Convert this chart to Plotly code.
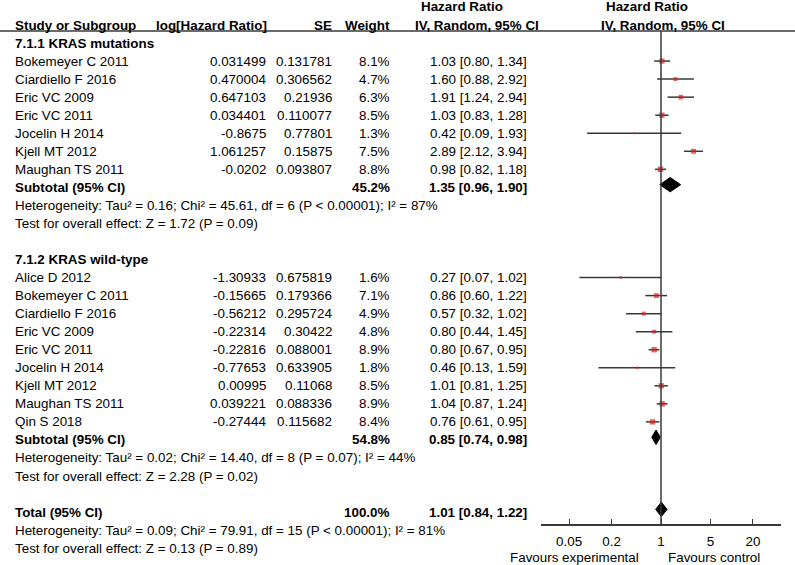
import plotly.graph_objects as go

# ---------------- data ----------------
mut_studies = ["Bokemeyer C 2011", "Ciardiello F 2016", "Eric VC 2009", "Eric VC 2011",
               "Jocelin H 2014", "Kjell MT 2012", "Maughan TS 2011"]
mut_loghr = ["0.031499", "0.470004", "0.647103", "0.034401", "-0.8675", "1.061257", "-0.0202"]
mut_se = ["0.131781", "0.306562", "0.21936", "0.110077", "0.77801", "0.15875", "0.093807"]
mut_weight = [8.1, 4.7, 6.3, 8.5, 1.3, 7.5, 8.8]
mut_hr = [1.03, 1.60, 1.91, 1.03, 0.42, 2.89, 0.98]
mut_lo = [0.80, 0.88, 1.24, 0.83, 0.09, 2.12, 0.82]
mut_hi = [1.34, 2.92, 2.94, 1.28, 1.93, 3.94, 1.18]

wt_studies = ["Alice D 2012", "Bokemeyer C 2011", "Ciardiello F 2016", "Eric VC 2009",
              "Eric VC 2011", "Jocelin H 2014", "Kjell MT 2012", "Maughan TS 2011", "Qin S 2018"]
wt_loghr = ["-1.30933", "-0.15665", "-0.56212", "-0.22314", "-0.22816", "-0.77653",
            "0.00995", "0.039221", "-0.27444"]
wt_se = ["0.675819", "0.179366", "0.295724", "0.30422", "0.088001", "0.633905",
         "0.11068", "0.088336", "0.115682"]
wt_weight = [1.6, 7.1, 4.9, 4.8, 8.9, 1.8, 8.5, 8.9, 8.4]
wt_hr = [0.27, 0.86, 0.57, 0.80, 0.80, 0.46, 1.01, 1.04, 0.76]
wt_lo = [0.07, 0.60, 0.32, 0.44, 0.67, 0.13, 0.81, 0.87, 0.61]
wt_hi = [1.02, 1.22, 1.02, 1.45, 0.95, 1.59, 1.25, 1.24, 0.95]

pooled_labels = ["Subtotal (95% CI)", "Subtotal (95% CI)", "Total (95% CI)"]
pooled_weight = [45.2, 54.8, 100.0]
pooled_hr = [1.35, 0.85, 1.01]
pooled_lo = [0.96, 0.74, 0.84]
pooled_hi = [1.90, 0.98, 1.22]

group_titles = ["7.1.1 KRAS mutations", "7.1.2 KRAS wild-type"]
het_texts = [
    "Heterogeneity: Tau² = 0.16; Chi² = 45.61, df = 6 (P < 0.00001); I² = 87%",
    "Heterogeneity: Tau² = 0.02; Chi² = 14.40, df = 8 (P = 0.07); I² = 44%",
    "Heterogeneity: Tau² = 0.09; Chi² = 79.91, df = 15 (P < 0.00001); I² = 81%",
]
test_texts = [
    "Test for overall effect: Z = 1.72 (P = 0.09)",
    "Test for overall effect: Z = 2.28 (P = 0.02)",
    "Test for overall effect: Z = 0.13 (P = 0.89)",
]
tick_vals = [0.05, 0.2, 1, 5, 20]
tick_text = ["0.05", "0.2", "1", "5", "20"]
col_headers = ["Study or Subgroup", "log[Hazard Ratio]", "SE", "Weight"]
hr_header = ["Hazard Ratio", "IV, Random, 95% CI"]
favours = ["Favours experimental", "Favours control"]

# ---------------- layout helpers ----------------
W, H = 795, 565
ROW0_PX, ROW_PX = 25.0, 18.04
def px2row(p):
    return (p - ROW0_PX) / ROW_PX
def fx(p):
    return p / W

FONT = "Liberation Sans, Arial, Helvetica, sans-serif"
FS = 13.4
FSB = 13.4
TXT = "#000000"
LINE = "#383838"
RED = "#dc1e1e"

# row assignment
r_mut_title = 1
r_mut = list(range(2, 2 + len(mut_studies)))
r_mut_sub = r_mut[-1] + 1
r_wt_title = r_mut_sub + 4
r_wt = list(range(r_wt_title + 1, r_wt_title + 1 + len(wt_studies)))
r_wt_sub = r_wt[-1] + 1
r_total = r_wt_sub + 4
pooled_rows = [r_mut_sub, r_wt_sub, r_total]

X_NAME, X_LOG, X_SE, X_W, X_HR = 13, 268, 334, 392, 529

annotations = []
def txt(x, row, s, anchor="left", bold=False, size=None):
    annotations.append(dict(
        x=fx(x), xref="paper", y=row, yref="y", text=(f"<b>{s}</b>" if bold else s),
        showarrow=False, xanchor=anchor, yanchor="middle",
        font=dict(family=FONT, size=size or (FSB if bold else FS), color=TXT)))

# headers
txt(X_NAME, 0, col_headers[0], bold=True)
txt(X_LOG + 1, 0, col_headers[1], "right", bold=True)
txt(X_SE, 0, col_headers[2], "right", bold=True)
txt(X_W, 0, col_headers[3], "right", bold=True)
txt(462, -1, hr_header[0], "center", bold=True)
txt(477, 0, hr_header[1], "center", bold=True)
txt(647, -1, hr_header[0], "center", bold=True)
txt(663, 0, hr_header[1], "center", bold=True)

# study rows
groups = [
    (mut_studies, mut_loghr, mut_se, mut_weight, mut_hr, mut_lo, mut_hi, r_mut),
    (wt_studies, wt_loghr, wt_se, wt_weight, wt_hr, wt_lo, wt_hi, r_wt),
]
for gi, (names, lhr, se, w, hr, lo, hi, rows) in enumerate(groups):
    txt(X_NAME, rows[0] - 1, group_titles[gi], bold=True)
    for i, r in enumerate(rows):
        txt(X_NAME, r, names[i])
        txt(X_LOG, r, lhr[i], "right")
        txt(X_SE, r, se[i], "right")
        txt(X_W, r, f"{w[i]:.1f}%", "right")
        txt(X_HR, r, f"{hr[i]:.2f} [{lo[i]:.2f}, {hi[i]:.2f}]", "right")

for k, r in enumerate(pooled_rows):
    txt(X_NAME, r, pooled_labels[k], bold=True)
    txt(X_W, r, f"{pooled_weight[k]:.1f}%", "right", bold=True)
    txt(X_HR, r, f"{pooled_hr[k]:.2f} [{pooled_lo[k]:.2f}, {pooled_hi[k]:.2f}]", "right", bold=True)
    txt(X_NAME, r + 1, het_texts[k])
    txt(X_NAME, r + 2, test_texts[k])

txt(574, px2row(557), favours[0], "center")
txt(714, px2row(557), favours[1], "center")

# ---------------- traces ----------------
fig = go.Figure()

all_hr = mut_hr + wt_hr
all_lo = mut_lo + wt_lo
all_hi = mut_hi + wt_hi
all_w = mut_weight + wt_weight
all_rows = r_mut + r_wt

cx, cy = [], []
for lo, hi, r in zip(all_lo, all_hi, all_rows):
    cx += [lo, hi, None]
    cy += [r, r, None]
fig.add_trace(go.Scatter(x=cx, y=cy, mode="lines", line=dict(color=LINE, width=1.5),
                         hoverinfo="skip", showlegend=False))
fig.add_trace(go.Scatter(x=all_hr, y=all_rows, mode="markers",
                         marker=dict(symbol="square", color=RED,
                                     size=[1.8 * w ** 0.5 for w in all_w], line=dict(width=0)),
                         showlegend=False))

DH = 0.40
for k, r in enumerate(pooled_rows):
    fig.add_trace(go.Scatter(
        x=[pooled_lo[k], pooled_hr[k], pooled_hi[k], pooled_hr[k], pooled_lo[k]],
        y=[r - 0.15, r - 0.15 - DH, r - 0.15, r - 0.15 + DH, r - 0.15], mode="lines", fill="toself",
        fillcolor="#000000", line=dict(color="#000000", width=1),
        hoverinfo="skip", showlegend=False))

AXIS_PX = 525
shapes = [
    dict(type="line", xref="paper", yref="y", x0=0, x1=1, y0=px2row(31), y1=px2row(31),
         line=dict(color=LINE, width=1.5)),
    dict(type="line", xref="x", yref="y", x0=1, x1=1, y0=px2row(31), y1=px2row(AXIS_PX),
         line=dict(color=LINE, width=1.5)),
]

fig.update_layout(
    width=W, height=H, margin=dict(l=0, r=0, t=0, b=0),
    paper_bgcolor="white", plot_bgcolor="rgba(0,0,0,0)",
    annotations=annotations, shapes=shapes,
    xaxis=dict(type="log", range=[-1.699, 1.699], domain=[fx(541), fx(781)],
               anchor="free", position=1 - AXIS_PX / H,
               tickvals=tick_vals, ticktext=tick_text, ticks="inside", ticklen=5,
               tickcolor=LINE, tickwidth=1.3, showline=True, linecolor=LINE, linewidth=1.5,
               showgrid=False, zeroline=False, ticklabelstandoff=4,
               tickfont=dict(family=FONT, size=FS, color=TXT)),
    yaxis=dict(range=[px2row(H), px2row(0)], domain=[0, 1], visible=False,
               showgrid=False, zeroline=False),
)

fig.write_html("out.html", config={"displayModeBar": False},
               post_script="document.body.style.margin='0';")
